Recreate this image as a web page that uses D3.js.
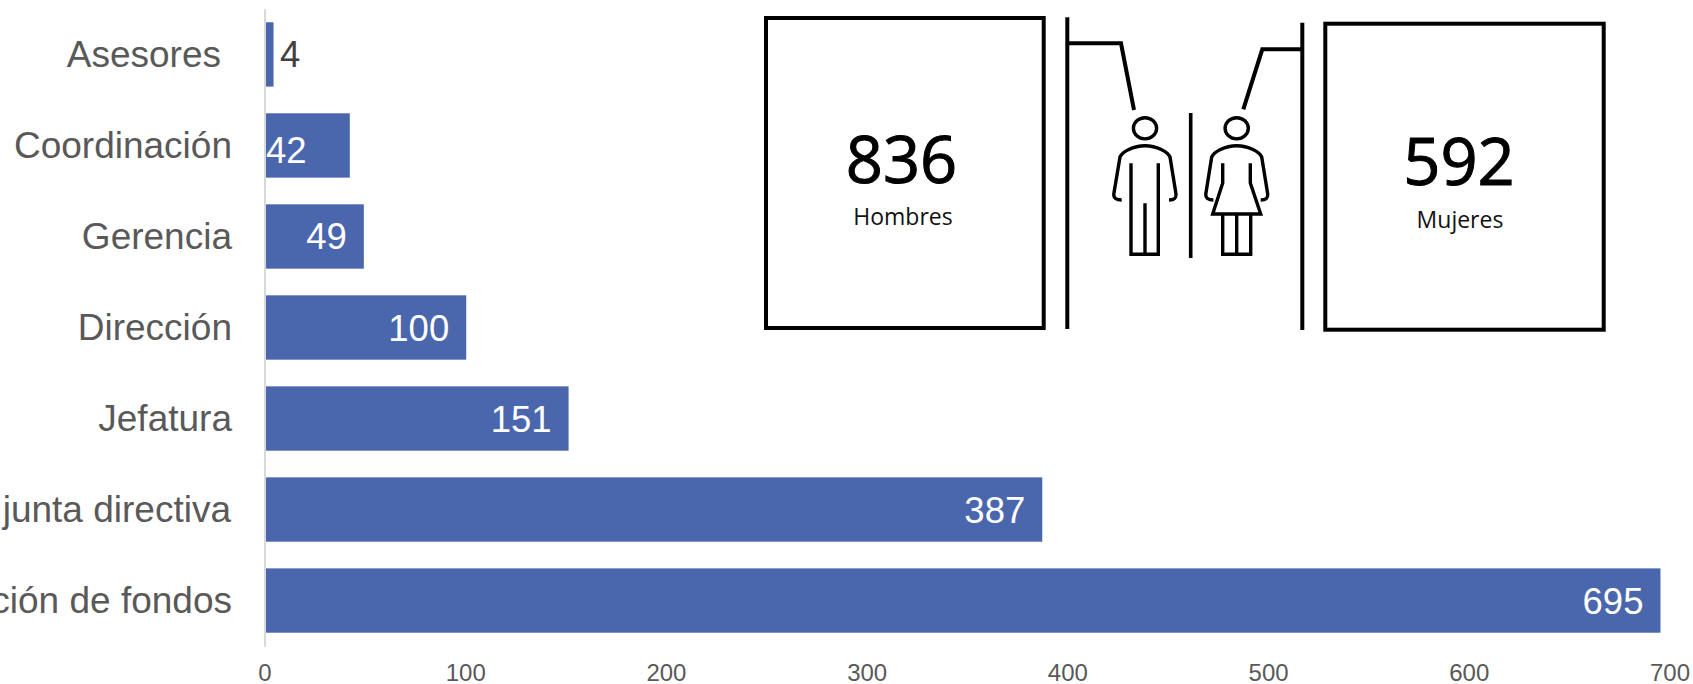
<!DOCTYPE html>
<html><head><meta charset="utf-8">
<script src="https://cdn.jsdelivr.net/npm/d3@7"></script>
<style>html,body{margin:0;padding:0;background:#fff;overflow:hidden}svg{display:block}</style>
</head><body><svg id="c" width="1693" height="684"></svg>
<script>
const categories = ["Asesores","Coordinación","Gerencia","Dirección","Jefatura","junta directiva","ción de fondos"];
const values = [4,42,49,100,151,387,695];
const xTicks = [0,100,200,300,400,500,600,700];
const genderTotals = [836,592];
const genderLabels = ["Hombres","Mujeres"];

const svg = d3.select("#c");
const sans = "'Liberation Sans',Arial,sans-serif";
const callout = "'Open Sans','Noto Sans',sans-serif";
const x = d3.scaleLinear().domain([0,700]).range([265.5,1670.5]);
const y = d3.scaleBand().domain(categories).range([8.95,646.05]).paddingInner(0.293).paddingOuter(0.1465);

svg.append("line").attr("x1",265).attr("x2",265).attr("y1",9).attr("y2",647).attr("stroke","#d9d9d9").attr("stroke-width",2);

svg.selectAll("rect.bar").data(values).join("rect").attr("class","bar")
  .attr("x",x(0)+0.5).attr("y",(d,i)=>y(categories[i])).attr("height",y.bandwidth())
  .attr("width",d=>x(d)-x(0)-0.5).attr("fill","#4a66ac");

svg.selectAll("text.cat").data(categories).join("text").attr("class","cat")
  .attr("x",(d,i)=>i===0?221:(i===5?231:232)).attr("y",(d,i)=>y(d)+y.bandwidth()/2+(i<3?13:12))
  .attr("text-anchor","end").attr("font-family",sans).attr("font-size",37).attr("fill","#595959").text(d=>d);

svg.selectAll("text.val").data(values).join("text").attr("class","val")
  .attr("x",d=>d===4?280:(d===42?x(0)+0.5:x(d)-17))
  .attr("y",(d,i)=>y(categories[i])+y.bandwidth()/2+(d===42?18:13))
  .attr("text-anchor",d=>d===4||d===42?"start":"end").attr("font-family",sans).attr("font-size",36.5)
  .attr("fill",d=>d===4?"#404040":"#fff").text(d=>d);

const axis = d3.axisBottom(x).tickValues(xTicks).tickSize(0).tickFormat(d3.format("d"));
const gx = svg.append("g").attr("transform","translate(-1,664)").call(axis);
gx.select(".domain").remove();
gx.selectAll("text").attr("font-family",sans).attr("font-size",24).attr("fill","#595959").attr("y",0).attr("dy","0.71em");

const ink = "#000";
function box(x0,y0,x1,y1){svg.append("rect").attr("x",x0).attr("y",y0).attr("width",x1-x0).attr("height",y1-y0).attr("fill","#fff").attr("stroke",ink).attr("stroke-width",4);}
box(766,18,1043.7,328);
box(1325.3,23.7,1603.7,329.7);
genderTotals.forEach((v,i)=>{
  svg.append("text").attr("x",i===0?901.5:1459).attr("y",i===0?182.5:185).attr("text-anchor","middle")
    .attr("font-family",callout).attr("font-size",65).attr("fill",ink).attr("stroke",ink).attr("stroke-width",1).text(v);
  svg.append("text").attr("x",i===0?903:1460).attr("y",i===0?225:227.5).attr("text-anchor","middle")
    .attr("font-family",callout).attr("font-size",23).attr("fill","#111").text(genderLabels[i]);
});

function path(d,w){svg.append("path").attr("d",d).attr("fill","none").attr("stroke",ink).attr("stroke-width",w||3.4).attr("stroke-linejoin","miter");}
path("M1067.3,17.3V329",4);
path("M1302.3,22.7V330",4);
path("M1068,43.3H1121L1134,110",4);
path("M1302,49.3H1262.3L1243.3,109.3",4);
path("M1190.7,113V258",3.6);
// man
svg.append("ellipse").attr("cx",1145).attr("cy",128.3).attr("rx",11.6).attr("ry",10.6).attr("fill","none").attr("stroke",ink).attr("stroke-width",3.4);
path("M1121.7,200C1116,200 1113.5,198 1113.8,194L1120,157C1122,152 1133,145.7 1145,145.7C1157,145.7 1168,152 1170,157L1176,194C1176.3,198 1174.5,200 1169,200");
path("M1131,163.3V254.3H1158.3V163.3M1145,203.3V254.3");
// woman
svg.append("ellipse").attr("cx",1236.7).attr("cy",128.3).attr("rx",11.6).attr("ry",10.6).attr("fill","none").attr("stroke",ink).attr("stroke-width",3.4);
path("M1213.4,200C1208,200 1205.5,198 1205.8,194L1211.7,157C1213.7,152 1224.7,145.7 1236.7,145.7C1248.7,145.7 1259.7,152 1261.7,157L1267.7,194C1268,198 1266.2,200 1260.7,200");
path("M1222.7,163.3V183L1212.7,214H1260.7L1250.3,183V163.3M1222.7,214V254.3H1250.7V214M1236.7,214V254.3");
</script></body></html>
